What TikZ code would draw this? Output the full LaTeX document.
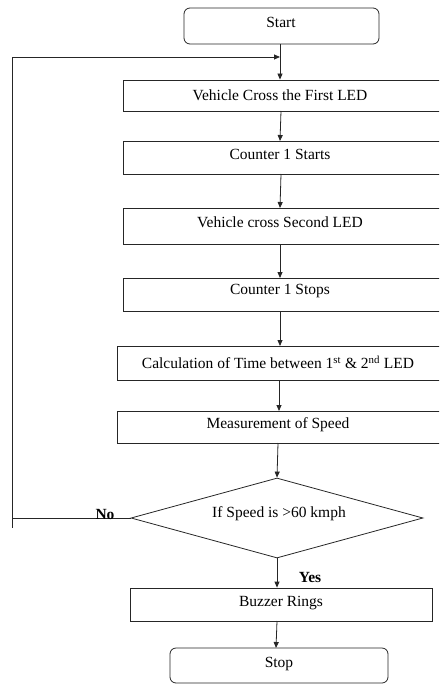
\documentclass[tikz,border=0pt]{standalone}
\usepackage{fontspec}
\setmainfont{Liberation Serif}
\usetikzlibrary{arrows.meta,shapes.geometric}
\begin{document}
\begin{tikzpicture}[x=1pt,y=-1pt,
  line/.style={draw=black!85,line width=0.8pt},
  arr/.style={line,-{Triangle[length=6pt,width=5pt]}},
  txt/.style={font=\fontsize{15.5}{17}\selectfont,inner sep=0pt},
  procbox/.style={line,rectangle,inner sep=0pt,font=\fontsize{15.5}{17}\selectfont},
  termbox/.style={line,rectangle,rounded corners=6pt,inner sep=0pt,font=\fontsize{15.5}{17}\selectfont},
  lbl/.style={font=\bfseries\fontsize{15.5}{17}\selectfont,inner sep=0pt}]
\useasboundingbox (0,0) rectangle (439,687);
\begin{scope}
\clip (0,0) rectangle (439,687);
\node[termbox,minimum width=195pt,minimum height=36pt] (start) at (281.5,26) {};
\node[txt] at (281,22) {Start};
\node[procbox,minimum width=322pt,minimum height=31pt] (b1) at (284,95.5) {};
\node[txt] at (280,95.5) {Vehicle Cross the First LED};
\node[procbox,minimum width=322pt,minimum height=33pt] (b2) at (284,157.5) {};
\node[txt] at (280,154) {Counter 1 Starts};
\node[procbox,minimum width=322pt,minimum height=36pt] (b3) at (284,226) {};
\node[txt] at (280,222) {Vehicle cross Second LED};
\node[procbox,minimum width=322pt,minimum height=33pt] (b4) at (284,294.5) {};
\node[txt] at (280,291) {Counter 1 Stops};
\node[procbox,minimum width=328pt,minimum height=34pt] (b5) at (281,363) {};
\node[txt] at (278,362) {Calculation of Time between 1\textsuperscript{st} \& 2\textsuperscript{nd} LED};
\node[procbox,minimum width=328pt,minimum height=32pt] (b6) at (281,427) {};
\node[txt] at (278,425) {Measurement of Speed};
\end{scope}
\node[line,diamond,aspect=3.65,inner sep=0pt,minimum width=292pt,minimum height=80pt] (dec) at (277,518) {};
\node[txt] at (279,514) {If Speed is >60 kmph};
\node[procbox,minimum width=302pt,minimum height=33pt] (buz) at (281,604.5) {};
\node[txt] at (281,603) {Buzzer Rings};
\node[termbox,minimum width=218pt,minimum height=35pt] (stop) at (279,665.5) {};
\node[txt] at (279,664) {Stop};
\coordinate (lb) at (12,518);
\coordinate (lt) at (12,57);
\coordinate (lm) at (280,57);
\coordinate (lbe) at (12,528);
% main flow
\draw[arr] (start.south -| lm) -- (lm |- b1.north);
\draw[arr] (281,111) -- (280,141);
\draw[arr] (281,174) -- (280,208);
\draw[arr] (280,244) -- (280,278);
\draw[arr] (280,311) -- (280,346);
\draw[arr] (279,380) -- (279,411);
\draw[arr] (278,443) -- (dec.north);
\draw[arr] (dec.south) -- (dec.south |- buz.north);
\draw[arr] (277,621) -- (276,648);
% loop
\draw[line] (dec.west) -- (lb) -- (lbe);
\draw[arr] (lb) -- (lt) -- (lm);
\node[lbl] (no) at (105,514) {No};
\node[lbl] (yes) at (310,577) {Yes};
\end{tikzpicture}
\end{document}
